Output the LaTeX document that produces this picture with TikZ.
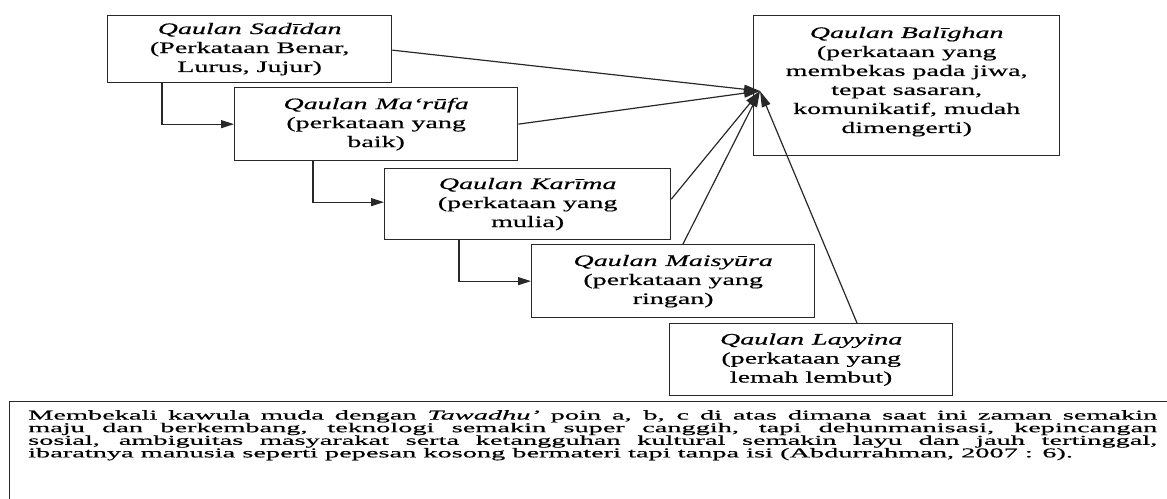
\documentclass[tikz,border=0pt]{standalone}
\usepackage{fontspec}
\setmainfont[FakeStretch=1.75,FakeBold=0.5]{Liberation Serif}
\newfontfamily\parafont[FakeStretch=2.1,FakeBold=0.5]{Liberation Serif}
\usetikzlibrary{arrows.meta}
\definecolor{ink}{RGB}{40,40,40}
\begin{document}
\begin{tikzpicture}[x=1pt,y=-1pt,
  box/.style={draw=ink, line width=1.3pt, inner sep=0pt, anchor=north west},
  lbl/.style={align=center, inner sep=0pt, font=\fontsize{16}{19}\selectfont},
  conn/.style={draw=ink, line width=1.2pt},
  arr/.style={conn, -{Triangle[length=13pt,width=8pt]}},
  bigarr/.style={conn, -{Triangle[length=16pt,width=9pt]}}]
\useasboundingbox (0,0) rectangle (1167,498);
\begin{scope}
\clip (0,0) rectangle (1167,498);
\node[box, minimum width=284, minimum height=67] (b1) at (107,15) {};
\node[lbl] (t1) at (b1) {\textit{Qaulan\hspace{0.5em}Sadīdan}\\(Perkataan Benar,\\Lurus, Jujur)};
\node[box, minimum width=283, minimum height=73] (b2) at (234,87) {};
\node[lbl] (t2) at (b2) {\textit{Qaulan\hspace{0.5em}Ma‘rūfa}\\(perkataan yang\\baik)};
\node[box, minimum width=286, minimum height=71] (b3) at (384,168) {};
\node[lbl] (t3) at (b3) {\textit{Qaulan\hspace{0.5em}Karīma}\\(perkataan yang\\mulia)};
\node[box, minimum width=283, minimum height=73] (b4) at (531,244) {};
\node[lbl] (t4) at (b4) {\textit{Qaulan\hspace{0.5em}Maisyūra}\\(perkataan yang\\ringan)};
\node[box, minimum width=283, minimum height=72] (b5) at (669,323) {};
\node[lbl] (t5) at (b5) {\textit{Qaulan\hspace{0.5em}Layyina}\\(perkataan yang\\lemah lembut)};
\node[box, minimum width=306, minimum height=140] (b6) at (753,15) {};
\node[lbl] (t6) at ([yshift=4pt]b6.center) {\textit{Qaulan Balīghan}\\(perkataan yang\\membekas pada jiwa,\\tepat sasaran,\\komunikatif, mudah\\dimengerti)};
\node[box, minimum width=1180, minimum height=120] (frame) at (9,401) {};
\node[anchor=north west, inner sep=0pt, text width=1129pt, align=justify] (para) at (28,410)
  {\parafont\fontsize{13.5}{12.6}\selectfont Membekali kawula muda dengan \textit{Tawadhu’} poin a, b, c di atas dimana saat ini zaman semakin\linebreak
   maju dan berkembang, teknologi semakin super canggih, tapi dehunmanisasi, kepincangan\linebreak
   sosial, ambiguitas masyarakat serta ketangguhan kultural semakin layu dan jauh tertinggal,\linebreak
   ibaratnya manusia seperti pepesan kosong bermateri tapi tanpa isi (Abdurrahman, 2007 : 6).\par};
\end{scope}
\coordinate (tip) at (760,91);
\coordinate (s4) at (683,244);
\coordinate (s5) at (857,323);
\draw[arr] ([xshift=55pt]b1.south west) |- (b2.west);
\draw[arr] ([xshift=79pt]b2.south west) |- ([yshift=2pt]b3.west);
\draw[arr] ([xshift=75pt]b3.south west) |- (b4.west);
\draw[bigarr] ([yshift=-1pt]b1.east) -- (tip);
\draw[bigarr] (b2.east) -- (tip);
\draw[bigarr] ([yshift=5pt]b3.east) -- (tip);
\draw[bigarr] (s4) -- (tip);
\draw[bigarr] (s5) -- (tip);
\end{tikzpicture}
\end{document}
